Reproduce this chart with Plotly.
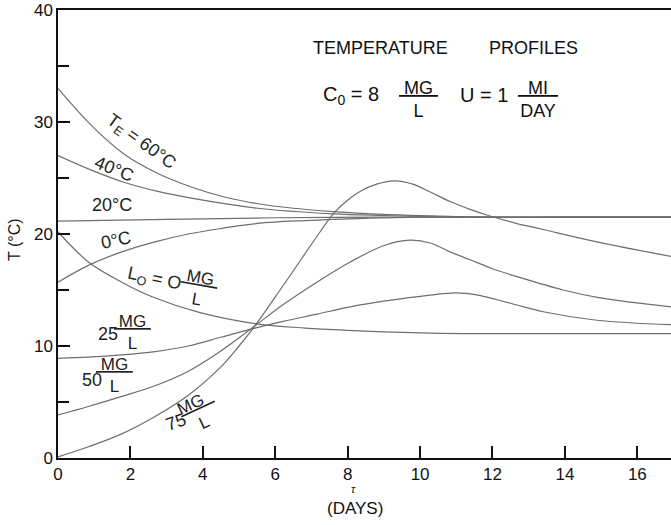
import plotly.graph_objects as go

# ---------------- data ----------------
tau_60 = [0, 0.92, 1.84, 2.76, 3.68, 4.6, 5.52, 6.5, 7.6, 9, 10.5, 12, 14, 16.93]
T_60 = [33.0, 29.7, 27.1, 25.4, 24.2, 23.3, 22.7, 22.3, 22.0, 21.75, 21.6, 21.5, 21.5, 21.5]

tau_40 = [0, 0.92, 1.84, 2.76, 3.68, 5.52, 7.6, 9, 11, 14, 16.93]
T_40 = [27.0, 25.7, 24.6, 23.8, 23.2, 22.3, 21.8, 21.65, 21.5, 21.5, 21.5]

tau_20 = [0, 3, 6, 9, 12, 16.93]
T_20 = [21.15, 21.3, 21.45, 21.5, 21.5, 21.5]

tau_0 = [0, 0.84, 1.76, 2.68, 3.6, 4.52, 5.52, 6.82, 8.5, 10, 16.93]
T_0 = [15.7, 17.2, 18.4, 19.3, 20.0, 20.5, 20.95, 21.2, 21.4, 21.5, 21.5]

tau_L0 = [0, 0.84, 1.76, 2.6, 3.9, 5.44, 6.82, 8, 10.28, 12, 14, 16.93]
T_L0 = [20.2, 17.5, 15.7, 14.4, 13.0, 12.0, 11.6, 11.4, 11.15, 11.1, 11.1, 11.1]

tau_25 = [0, 0.84, 1.76, 2.68, 3.6, 4.52, 5.44, 6.22, 7.15, 8.07, 9.0, 10.28, 11.0, 11.6,
          12.1, 12.67, 13.4, 14.88, 16.93]
T_25 = [8.9, 9.0, 9.2, 9.5, 10.0, 10.8, 11.6, 12.2, 12.85, 13.5, 14.0, 14.55, 14.75, 14.55,
        14.15, 13.66, 13.06, 12.3, 11.9]

tau_50 = [0, 0.84, 1.76, 2.68, 3.6, 4.52, 5.44, 6.22, 7.15, 8.07, 8.99, 9.72, 10.28, 10.83,
          11.38, 12.0, 12.67, 13.95, 14.97, 16.93]
T_50 = [3.84, 4.6, 5.5, 6.45, 7.75, 9.6, 11.8, 13.7, 15.7, 17.5, 18.95, 19.45, 19.2, 18.4,
        17.7, 16.9, 16.2, 15.0, 14.3, 13.5]

tau_75 = [0, 0.84, 1.76, 2.68, 3.6, 4.52, 5.0, 5.44, 6.22, 7.24, 7.6, 7.97, 8.34, 8.8, 9.3,
          9.8, 10.28, 10.83, 11.38, 11.84, 12.6, 13.4, 14.88, 16.93]
T_75 = [0.1, 1.0, 2.15, 3.7, 5.6, 8.2, 10.0, 11.8, 15.4, 20.2, 21.8, 22.95, 23.8, 24.45, 24.75,
        24.45, 23.75, 22.9, 22.2, 21.7, 21.0, 20.4, 19.3, 18.0]

x_ticks = [0, 2, 4, 6, 8, 10, 12, 14, 16]
y_ticks = [0, 10, 20, 30, 40]
y_minor = [5, 15, 25, 35]

series = [
    (tau_60, T_60), (tau_40, T_40), (tau_20, T_20), (tau_0, T_0),
    (tau_L0, T_L0), (tau_25, T_25), (tau_50, T_50), (tau_75, T_75),
]

FONT = "Liberation Sans, Arial, sans-serif"
LINE_COLOR = "#6e6e6e"

fig = go.Figure()
for xs, ys in series:
    fig.add_trace(go.Scatter(
        x=xs, y=ys, mode="lines",
        line=dict(color=LINE_COLOR, width=1.2, shape="spline", smoothing=1.0),
        showlegend=False, hoverinfo="skip",
    ))

# ---------------- curve labels (data coords) ----------------
def lab(x, y, text, angle=0, size=18):
    fig.add_annotation(x=x, y=y, xref="x", yref="y", text=text, showarrow=False,
                       textangle=angle, font=dict(family=FONT, size=size, color="#222"),
                       xanchor="center", yanchor="middle")

lab(2.29, 28.2, "T<sub>E</sub> = 60°C", 36)
lab(1.55, 25.8, "40°C", 22)
lab(1.49, 22.6, "20°C", 0)
lab(1.60, 19.45, "0°C", -12)
lab(2.65, 15.9, "L<sub>O</sub> = O", 12)
lab(3.87, 15.1, "<u>&nbsp;MG&nbsp;</u><br>L", 10, 17)
lab(1.38, 11.05, "25", 0)
lab(2.07, 11.2, "<u>&nbsp;MG&nbsp;</u><br>L", 0, 17)
lab(0.94, 6.95, "50", 0)
lab(1.55, 7.35, "<u>&nbsp;MG&nbsp;</u><br>L", 0, 17)
lab(3.26, 3.2, "75", -20)
lab(3.90, 4.1, "<u>MG&nbsp;&nbsp;</u><br>L", -25, 17)

# ---------------- header texts (paper coords, from window pixels) ----------------
PX0, PY0, PW, PH = 58, 10, 613, 448


def pann(px, py, text, size=18, angle=0):
    fig.add_annotation(x=(px - PX0) / PW, y=(PY0 + PH - py) / PH, xref="paper", yref="paper",
                       text=text, showarrow=False, textangle=angle,
                       font=dict(family=FONT, size=size, color="#111"),
                       xanchor="center", yanchor="middle")


pann(380.5, 48, "TEMPERATURE", 18)
pann(533, 48, "PROFILES", 18)
pann(351, 95, "C<sub>0</sub> = 8", 20)
pann(418, 100, "<u>&nbsp;MG&nbsp;</u><br>L", 18)
pann(484, 95, "U = 1", 20)
pann(538, 100, "<u>&nbsp;&nbsp;MI&nbsp;&nbsp;</u><br>DAY", 18)

# axis titles
pann(14, 240, "T (°C)", 16, -90)
pann(353, 489, "<i>τ</i>", 11)
pann(355, 508, "(DAYS)", 17)

fig.update_xaxes(
    range=[0, 16.93], tickvals=x_ticks, ticktext=[str(v) for v in x_ticks],
    ticks="inside", ticklen=12, tickwidth=1.5, tickcolor="#111",
    showline=True, linecolor="#111", linewidth=1.5, mirror=True,
    showgrid=False, zeroline=False,
    tickfont=dict(family=FONT, size=17, color="#111"),
)
fig.update_yaxes(
    range=[0, 40], tickvals=y_ticks, ticktext=[str(v) for v in y_ticks],
    ticks="inside", ticklen=12, tickwidth=1.5, tickcolor="#111",
    minor=dict(tickvals=y_minor, ticks="inside", ticklen=11, tickwidth=1.5, tickcolor="#111"),
    showline=True, linecolor="#111", linewidth=1.5,
    showgrid=False, zeroline=False,
    tickfont=dict(family=FONT, size=17, color="#111"),
)
FIG_W, FIG_H = 671, 525
fig.update_layout(
    width=FIG_W, height=FIG_H,
    margin=dict(l=PX0, r=FIG_W - PX0 - PW, t=PY0, b=FIG_H - PY0 - PH, autoexpand=False),
    paper_bgcolor="white", plot_bgcolor="white",
    showlegend=False,
)

# remove the page's default 8px body margin so the figure fills the window exactly
fig.write_html(
    "out.html",
    config={"displayModeBar": False},
    post_script="document.body.style.margin='0';document.body.style.overflow='hidden';",
)
